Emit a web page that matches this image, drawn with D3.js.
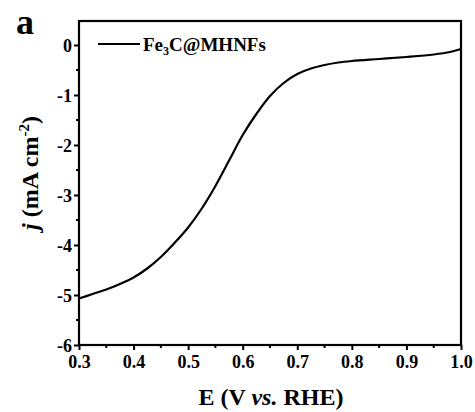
<!DOCTYPE html>
<html><head><meta charset="utf-8">
<script src="https://cdn.jsdelivr.net/npm/d3@7"></script>
</head><body style="margin:0;background:#fff"><svg id="c" width="475" height="412" style="display:block"></svg>
<script>
const potential = [0.30,0.325,0.35,0.375,0.40,0.425,0.45,0.475,0.50,0.525,0.55,0.575,0.60,0.625,0.65,0.675,0.70,0.725,0.75,0.775,0.80,0.85,0.90,0.95,0.98,1.00];
const current  = [-5.07,-4.98,-4.89,-4.78,-4.65,-4.47,-4.24,-3.96,-3.65,-3.27,-2.82,-2.31,-1.80,-1.38,-1.02,-0.76,-0.58,-0.47,-0.40,-0.35,-0.32,-0.28,-0.24,-0.19,-0.14,-0.08];
const xTicks = [0.3,0.4,0.5,0.6,0.7,0.8,0.9,1.0];
const yTicks = [0,-1,-2,-3,-4,-5,-6];

const FONT = 'Liberation Serif';
const svg = d3.select("#c");
const L=79,R=461,T=21,B=345;
const x = d3.scaleLinear().domain([0.3,1.0]).range([L,R]);
const y = d3.scaleLinear().domain([-6,0.48]).range([B,T]);

const xMinor = d3.range(0.35,1.0,0.1);
const yMinor = d3.range(-5.5,0.5,1);
svg.append("g").selectAll("line").data(xMinor).join("line").attr("x1",d=>x(d)).attr("x2",d=>x(d)).attr("y1",B).attr("y2",B+3).attr("stroke","#000").attr("stroke-width",2);
svg.append("g").selectAll("line").data(yMinor).join("line").attr("y1",d=>y(d)).attr("y2",d=>y(d)).attr("x1",L).attr("x2",L-3).attr("stroke","#000").attr("stroke-width",2);

const xAxis = svg.append("g").attr("transform",`translate(0,${B})`)
  .call(d3.axisBottom(x).tickValues(xTicks).tickFormat(d3.format(".1f")).tickSize(5).tickSizeOuter(0));
const yAxis = svg.append("g").attr("transform",`translate(${L},0)`)
  .call(d3.axisLeft(y).tickValues(yTicks).tickFormat(d=>d).tickSize(5).tickSizeOuter(0));
[xAxis,yAxis].forEach(a=>{a.attr("font-family",null).attr("font-size",null);
  a.select(".domain").remove();a.selectAll("line").attr("stroke","#000").attr("stroke-width",2);
  a.selectAll("text").attr("fill","#000").attr("font-family",FONT).attr("font-size",18).attr("font-weight","bold");});
xAxis.selectAll("text").attr("y",8).attr("dy","0.85em");
yAxis.selectAll("text").attr("x",-7).attr("dy","0.35em");

svg.append("rect").attr("x",L).attr("y",T).attr("width",R-L).attr("height",B-T).attr("fill","none").attr("stroke","#000").attr("stroke-width",2.2);

const data = potential.map((e,i)=>({e,j:current[i]}));
svg.append("path").datum(data).attr("fill","none").attr("stroke","#000").attr("stroke-width",2.2)
  .attr("d",d3.line().x(d=>x(d.e)).y(d=>y(d.j)).curve(d3.curveCatmullRom.alpha(0.5)));

function txt(sel){return sel.attr("font-family",FONT).attr("font-weight","bold").attr("fill","#000");}

svg.append("line").attr("x1",98).attr("x2",140).attr("y1",44).attr("y2",44).attr("stroke","#000").attr("stroke-width",2);
const lt = txt(svg.append("text")).attr("x",143).attr("y",51).attr("font-size",19);
lt.append("tspan").text("Fe");
lt.append("tspan").attr("font-size",12).attr("dy",4).text("3");
lt.append("tspan").attr("dy",-4).text("C@MHNFs");

txt(svg.append("text")).attr("x",16).attr("y",34).attr("font-size",36).text("a");

const xt = txt(svg.append("text")).attr("x",(L+R)/2+1).attr("y",405).attr("text-anchor","middle").attr("font-size",24);
xt.append("tspan").text("E (V ");
xt.append("tspan").attr("font-style","italic").text("vs.");
xt.append("tspan").text(" RHE)");

const yt = txt(svg.append("text")).attr("transform",`translate(38,173) rotate(-90)`).attr("text-anchor","middle").attr("font-size",24);
yt.append("tspan").attr("font-style","italic").text("j");
yt.append("tspan").text(" (mA cm");
yt.append("tspan").attr("font-size",15).attr("dy",-9).text("-2");
yt.append("tspan").attr("dy",9).text(")");
</script></body></html>
